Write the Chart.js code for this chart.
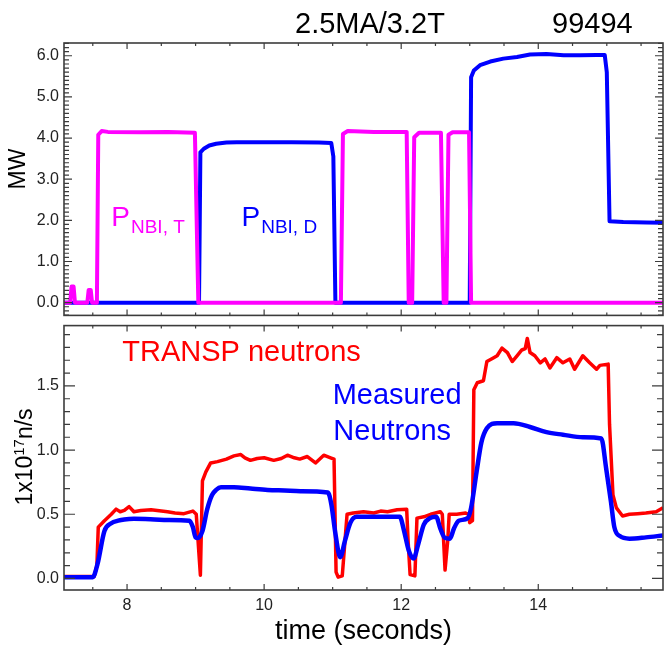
<!DOCTYPE html>
<html>
<head>
<meta charset="utf-8">
<title>NBI power and neutron rate</title>
<script src="https://cdn.jsdelivr.net/npm/chart.js@4.4.1/dist/chart.umd.min.js"></script>
<style>
  html, body { margin: 0; padding: 0; background: #fff; }
  #wrap { position: relative; width: 664px; height: 648px; }
  canvas { position: absolute; left: 0; }
  #power { top: 0; }
  #neutrons { top: 311px; }
</style>
</head>
<body>
<div id="wrap">
  <canvas id="power" width="664" height="330"></canvas>
  <canvas id="neutrons" width="664" height="337"></canvas>
</div>
<script>
'use strict';

// Tritium beam power (MW)
var ntbiTime = [7.08, 7.17, 7.19, 7.22, 7.24, 7.42, 7.44, 7.47, 7.49, 7.56, 7.58, 7.63, 7.72, 8.2, 8.6, 8.99, 9.04,
	11.12, 11.15, 11.22, 11.6, 12.08, 12.11, 12.16, 12.19, 12.26, 12.58, 12.62, 12.66, 12.69, 12.75, 12.99, 13.02, 15.82];
var ntbiPow = [0, 0, 0.39, 0.39, 0, 0, 0.31, 0.31, 0, 0, 4.08, 4.17, 4.15, 4.14, 4.15, 4.13, 0,
	0, 4.10, 4.17, 4.15, 4.15, 0, 0, 4.02, 4.13, 4.13, 0, 0, 4.08, 4.14, 4.14, 0, 0];

// Deuterium beam power (MW)
var nbidTime = [7.08, 9.05, 9.07, 9.12, 9.2, 9.3, 9.45, 9.6, 10.0, 10.4, 10.8, 10.98, 11.01, 11.04,
	13.0, 13.02, 13.06, 13.15, 13.3, 13.49, 13.69, 13.88, 14.12, 14.37, 14.61, 14.85, 14.97, 15.0, 15.04, 15.24, 15.58, 15.82];
var nbidPow = [0, 0, 3.65, 3.74, 3.82, 3.86, 3.89, 3.90, 3.90, 3.90, 3.89, 3.88, 3.55, 0,
	0, 5.48, 5.64, 5.77, 5.86, 5.93, 5.97, 6.03, 6.04, 6.01, 6.01, 6.02, 6.02, 5.6, 1.98, 1.96, 1.945, 1.94];

// TRANSP neutron rate (1e17 n/s)
var transpTime = [7.08, 7.52, 7.56, 7.58, 7.67, 7.77, 7.84, 7.90, 7.96, 8.03, 8.1, 8.2, 8.35, 8.5, 8.59, 8.7, 8.83, 8.96, 9.01,
	9.07, 9.10, 9.15, 9.22, 9.32, 9.45, 9.56, 9.66, 9.72, 9.8, 9.9, 10.0, 10.14, 10.25, 10.34, 10.44, 10.52, 10.63, 10.75, 10.87, 10.97, 11.02,
	11.05, 11.08, 11.14, 11.21, 11.30, 11.45, 11.6, 11.70, 11.8, 11.94, 12.08, 12.10, 12.13, 12.2, 12.23, 12.33, 12.43, 12.57, 12.60,
	12.64, 12.68, 12.70, 12.81, 12.94, 12.98, 13.0, 13.04, 13.06, 13.11, 13.2, 13.25, 13.35, 13.4, 13.47, 13.55, 13.62, 13.69, 13.76,
	13.81, 13.84, 13.88, 13.95, 14.03, 14.1, 14.17, 14.27, 14.36, 14.46, 14.53, 14.65, 14.75, 14.85, 14.9, 15.02, 15.04, 15.09, 15.14,
	15.23, 15.33, 15.45, 15.57, 15.72, 15.82];
var transpRate = [0.015, 0.015, 0.10, 0.40, 0.45, 0.50, 0.54, 0.52, 0.53, 0.56, 0.52, 0.53, 0.535, 0.525, 0.52, 0.51, 0.505, 0.525, 0.50,
	0.025, 0.76, 0.83, 0.90, 0.91, 0.93, 0.955, 0.965, 0.94, 0.92, 0.935, 0.94, 0.92, 0.935, 0.96, 0.94, 0.93, 0.95, 0.90, 0.96, 0.94, 0.93,
	0.05, 0.01, 0.02, 0.50, 0.51, 0.52, 0.51, 0.525, 0.52, 0.535, 0.54, 0.30, 0.03, 0.02, 0.47, 0.48, 0.50, 0.52, 0.50,
	0.065, 0.30, 0.50, 0.50, 0.51, 0.50, 0.435, 0.45, 1.47, 1.525, 1.54, 1.69, 1.72, 1.735, 1.795, 1.76, 1.69, 1.735, 1.78,
	1.79, 1.87, 1.76, 1.735, 1.68, 1.71, 1.64, 1.72, 1.68, 1.71, 1.63, 1.735, 1.68, 1.63, 1.66, 1.67, 1.2, 0.65, 0.55,
	0.487, 0.50, 0.505, 0.51, 0.52, 0.55];

// Measured neutron rate (1e17 n/s)
var measTime = [7.08, 7.50, 7.57, 7.67, 7.77, 7.87, 7.96, 8.1, 8.4, 8.59, 8.91, 8.96, 9.0, 9.03, 9.1, 9.17, 9.24, 9.30, 9.37,
	9.56, 9.8, 10.05, 10.3, 10.53, 10.93, 10.98, 11.04, 11.11, 11.18, 11.26, 11.35, 11.54, 11.98, 12.04, 12.11, 12.18, 12.25,
	12.33, 12.42, 12.51, 12.57, 12.64, 12.71, 12.77, 12.84, 12.97, 13.02, 13.1, 13.17, 13.25, 13.4, 13.64, 13.88, 14.12, 14.36,
	14.65, 14.92, 14.99, 15.06, 15.11, 15.19, 15.33, 15.57, 15.82];
var measRate = [0.01, 0.01, 0.115, 0.37, 0.43, 0.45, 0.46, 0.465, 0.46, 0.455, 0.45, 0.40, 0.32, 0.315, 0.37, 0.54, 0.65, 0.69, 0.71,
	0.71, 0.70, 0.69, 0.685, 0.68, 0.67, 0.58, 0.35, 0.166, 0.295, 0.435, 0.48, 0.48, 0.48, 0.375, 0.218, 0.155, 0.27,
	0.42, 0.47, 0.48, 0.39, 0.315, 0.31, 0.39, 0.45, 0.47, 0.55, 0.83, 1.06, 1.17, 1.21, 1.21, 1.18, 1.14, 1.12,
	1.10, 1.09, 0.86, 0.6, 0.40, 0.33, 0.31, 0.32, 0.335];

// Labelled ticks
var timeTicks = [8, 10, 12, 14];
var powerTicks = [0, 1, 2, 3, 4, 5, 6];
var rateTicks = [0, 0.5, 1.0, 1.5];

var FONT = "'Liberation Sans', Arial, Helvetica, sans-serif";
var MAGENTA = '#ff00ff';
var BLUE = '#0000ff';
var RED = '#ff0000';
var T_MIN = 7.08, T_MAX = 15.82;

Chart.defaults.font.family = FONT;
Chart.defaults.color = '#222';

function xy(xs, ys) {
	return xs.map(function (t, i) { return { x: t, y: ys[i] }; });
}

// Box around the plot with IDL-style inward ticks on all four sides
var frameTicks = {
	id: 'frameTicks',
	afterDatasetsDraw: function (chart, args, opts) {
		var ctx = chart.ctx, a = chart.chartArea, x = chart.scales.x, y = chart.scales.y;
		ctx.save();
		ctx.strokeStyle = '#3c3c3c';
		ctx.lineWidth = 1.2;
		ctx.beginPath();
		for (var t = Math.ceil(x.min * 2) / 2; t <= x.max; t += 0.5) {
			var px = x.getPixelForValue(t);
			var len = (t % 2 === 0) ? opts.xMajor : opts.xMinor;
			ctx.moveTo(px, a.bottom); ctx.lineTo(px, a.bottom - len);
			ctx.moveTo(px, a.top); ctx.lineTo(px, a.top + len);
		}
		var n0 = Math.ceil(y.min * 10), n1 = Math.floor(y.max * 10);
		for (var i = n0; i <= n1; i++) {
			var py = y.getPixelForValue(i / 10);
			var l = (i % opts.yEvery === 0) ? opts.yMajor : opts.yMinor;
			ctx.moveTo(a.left, py); ctx.lineTo(a.left + l, py);
			ctx.moveTo(a.right, py); ctx.lineTo(a.right - l, py);
		}
		ctx.stroke();
		ctx.lineWidth = 1.6;
		ctx.strokeRect(a.left, a.top, a.right - a.left, a.bottom - a.top);
		ctx.restore();
	}
};

// Free text: titles, rotated axis names and in-plot labels
var annotations = {
	id: 'annotations',
	afterDraw: function (chart, args, opts) {
		var ctx = chart.ctx, x = chart.scales.x, y = chart.scales.y;
		ctx.save();
		ctx.textBaseline = 'alphabetic';
		ctx.textAlign = 'left';
		(opts.texts || []).forEach(function (d) {
			ctx.fillStyle = d.color;
			ctx.font = d.size + 'px ' + FONT;
			ctx.fillText(d.text, d.px, d.py);
		});
		(opts.labels || []).forEach(function (d) {
			var px = x.getPixelForValue(d.t), py = y.getPixelForValue(d.v);
			ctx.fillStyle = d.color;
			ctx.font = d.size + 'px ' + FONT;
			ctx.fillText(d.main, px, py);
			if (d.sub) {
				var w = ctx.measureText(d.main).width;
				ctx.font = d.subSize + 'px ' + FONT;
				ctx.fillText(d.sub, px + w + 1, py + 7);
			}
		});
		if (opts.yTitle) {
			var yt = opts.yTitle;
			ctx.translate(yt.px, yt.py);
			ctx.rotate(-Math.PI / 2);
			ctx.fillStyle = '#000';
			var parts = yt.parts, total = 0;
			parts.forEach(function (p) {
				ctx.font = p.size + 'px ' + FONT;
				p.w = ctx.measureText(p.text).width;
				total += p.w;
			});
			var cx = -total / 2;
			parts.forEach(function (p) {
				ctx.font = p.size + 'px ' + FONT;
				ctx.fillText(p.text, cx, -(p.rise || 0));
				cx += p.w;
			});
		}
		ctx.restore();
	}
};

var powerChart = new Chart(document.getElementById('power'), {
	type: 'line',
	data: {
		datasets: [{
			label: 'P NBI, T',
			data: xy(ntbiTime, ntbiPow),
			borderColor: MAGENTA,
			borderWidth: 4
		}, {
			label: 'P NBI, D',
			data: xy(nbidTime, nbidPow),
			borderColor: BLUE,
			borderWidth: 4
		}]
	},
	options: {
		responsive: false,
		animation: false,
		events: [],
		layout: { padding: { top: 43, right: 1, bottom: 9, left: 0 } },
		elements: { point: { radius: 0 }, line: { tension: 0, borderJoinStyle: 'round' } },
		scales: {
			x: { type: 'linear', min: T_MIN, max: T_MAX, display: false },
			y: {
				min: -0.31, max: 6.31,
				afterFit: function (s) { s.width = 64; },
				afterBuildTicks: function (s) { s.ticks = powerTicks.map(function (v) { return { value: v }; }); },
				ticks: { font: { size: 16 }, padding: 5, color: '#222', callback: function (v) { return v.toFixed(1); } },
				grid: { display: false, drawTicks: false },
				border: { display: false }
			}
		},
		plugins: {
			legend: { display: false },
			tooltip: { enabled: false },
			frameTicks: { xMajor: 6, xMinor: 3, yMajor: 8, yMinor: 5, yEvery: 10 },
			annotations: {
				texts: [
					{ text: '2.5MA/3.2T', px: 295, py: 33, size: 29, color: '#000' },
					{ text: '99494', px: 552, py: 33, size: 29, color: '#000' }
				],
				labels: [
					{ t: 7.77, v: 1.86, main: 'P', sub: 'NBI, T', size: 28, subSize: 19, color: MAGENTA },
					{ t: 9.67, v: 1.86, main: 'P', sub: 'NBI, D', size: 28, subSize: 19, color: BLUE }
				],
				yTitle: { px: 25, py: 169, parts: [{ text: 'MW', size: 23 }] }
			}
		}
	},
	plugins: [frameTicks, annotations]
});

var neutronChart = new Chart(document.getElementById('neutrons'), {
	type: 'line',
	data: {
		datasets: [{
			label: 'Measured Neutrons',
			data: xy(measTime, measRate),
			borderColor: BLUE,
			borderWidth: 4.5,
			cubicInterpolationMode: 'monotone'
		}, {
			label: 'TRANSP neutrons',
			data: xy(transpTime, transpRate),
			borderColor: RED,
			borderWidth: 3.5
		}]
	},
	options: {
		responsive: false,
		animation: false,
		events: [],
		layout: { padding: { top: 10, right: 1, bottom: 0, left: 0 } },
		elements: { point: { radius: 0 }, line: { tension: 0, borderJoinStyle: 'round' } },
		scales: {
			x: {
				type: 'linear', min: T_MIN, max: T_MAX,
				afterFit: function (s) { s.height = 58; },
				afterBuildTicks: function (s) { s.ticks = timeTicks.map(function (v) { return { value: v }; }); },
				ticks: { font: { size: 16 }, padding: 6, color: '#222', callback: function (v) { return String(v); } },
				grid: { display: false, drawTicks: false },
				border: { display: false },
				title: { display: true, text: 'time (seconds)', font: { size: 27 }, padding: { top: 0, bottom: 0, left: 0, right: 0 }, color: '#000' }
			},
			y: {
				min: -0.09, max: 1.97,
				afterFit: function (s) { s.width = 64; },
				afterBuildTicks: function (s) { s.ticks = rateTicks.map(function (v) { return { value: v }; }); },
				ticks: { font: { size: 16 }, padding: 5, color: '#222', callback: function (v) { return v.toFixed(1); } },
				grid: { display: false, drawTicks: false },
				border: { display: false }
			}
		},
		plugins: {
			legend: { display: false },
			tooltip: { enabled: false },
			frameTicks: { xMajor: 6, xMinor: 3, yMajor: 11, yMinor: 6, yEvery: 5 },
			annotations: {
				labels: [
					{ t: 7.93, v: 1.695, main: 'TRANSP neutrons', size: 29, color: RED },
					{ t: 11.0, v: 1.36, main: 'Measured', size: 29, color: BLUE },
					{ t: 11.01, v: 1.08, main: 'Neutrons', size: 29, color: BLUE }
				],
				yTitle: {
					px: 32, py: 146,
					parts: [
						{ text: '1x10', size: 23 },
						{ text: '17', size: 15, rise: 8 },
						{ text: 'n/s', size: 23 }
					]
				}
			}
		}
	},
	plugins: [frameTicks, annotations]
});
</script>
</body>
</html>
